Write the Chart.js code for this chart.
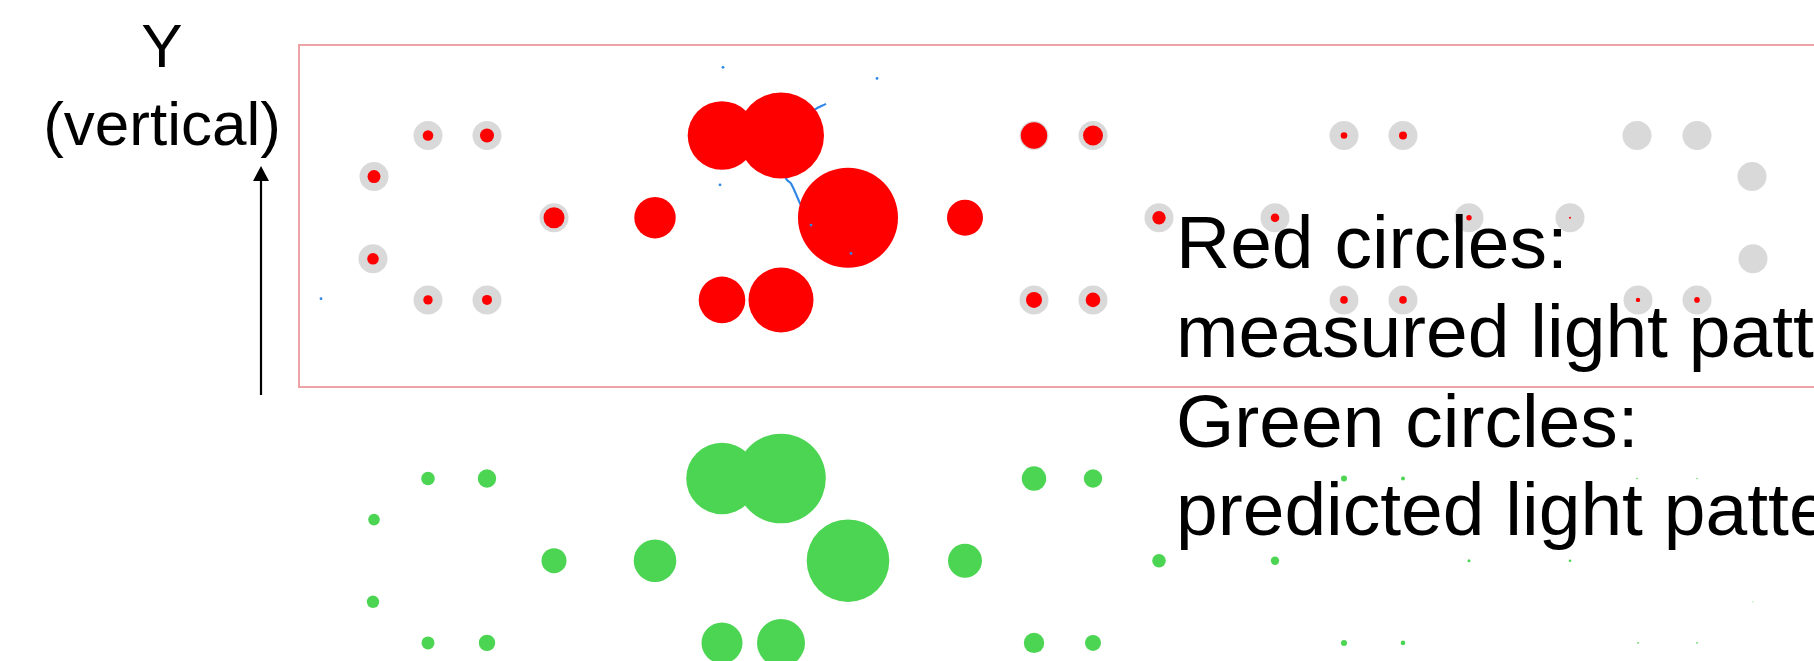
<!DOCTYPE html>
<html>
<head>
<meta charset="utf-8">
<script src="https://cdn.jsdelivr.net/npm/chart.js@4.4.1/dist/chart.umd.min.js"></script>
<style>
html,body{margin:0;padding:0;background:#fff;overflow:hidden}
canvas{display:block}
</style>
</head>
<body>
<canvas id="c" width="1814" height="661" style="width:1814px;height:661px"></canvas>
<script>
// ---- data ----
// spot positions: horizontal position (arbitrary units) and row (-2..2, up positive)
const spotX = [7.6, 7.5, 13.0, 18.9, 13.0, 18.9, 25.6,
               35.7, 42.4, 48.3, 42.4, 48.3, 55.0,
               66.7, 73.6, 79.5, 73.6, 79.5, 86.1,
               97.7, 104.6, 110.5, 104.6, 110.5, 117.1,
               127.2, 133.9, 139.9, 134.0, 139.9, 145.4, 145.5];
const spotRow = [1, -1, 2, 2, -2, -2, 0,
                 0, 2, 2, -2, -2, 0,
                 0, 2, 2, -2, -2, 0,
                 0, 2, 2, -2, -2, 0,
                 0, 2, 2, -2, -2, 1, -1];
// measured light pattern (bubble radius)
const measured = [6.5, 5.8, 5.3, 7.0, 4.7, 5.0, 10.5,
                  20.7, 34.3, 43.0, 23.3, 32.5, 50.0,
                  18.0, 13.2, 10.0, 8.0, 7.3, 6.7,
                  4.3, 3.3, 4.0, 3.8, 3.8, 2.7,
                  1.0, 0, 0, 2.2, 2.8, 0, 0];
// predicted light pattern (bubble radius)
const predicted = [5.8, 6.2, 6.8, 9.2, 6.5, 8.2, 12.5,
                   21.3, 35.8, 44.8, 20.5, 24.0, 41.3,
                   17.0, 12.2, 9.2, 10.2, 8.0, 6.8,
                   4.2, 3.0, 2.0, 3.0, 2.3, 1.5,
                   1.3, 0.8, 0.7, 0.8, 0.8, 0.5, 0.5];
// blue trace and stray blue marks in the measured panel
const traceX = [52.8, 51.6, 50.2, 49.2, 48.6, 48.9, 49.3, 50.2, 50.8];
const traceY = [2.77, 2.62, 2.26, 1.65, 1.10, 0.92, 0.83, 0.35, 0.06];
const strayX = [42.5, 57.9, 42.2, 2.3, 51.3, 55.3];
const strayY = [3.66, 3.39, 0.80, -1.97, -0.18, -0.87];
// text
const axisLabel = ['Y', '(vertical)'];
const noteLines = ['Red circles:', 'measured light pattern', 'Green circles:', 'predicted light pattern'];

// ---- chart ----
const pts = (xs, ys, rs) => xs.map((x, i) => rs ? {x: x, y: ys[i], r: rs[i]} : {x: x, y: ys[i]});

const decor = {
  id: 'decor',
  beforeDraw(chart) {
    const c = chart.ctx;
    c.save();
    c.fillStyle = '#ffffff';
    c.fillRect(0, 0, chart.width, chart.height);
    c.restore();
  },
  beforeDatasetsDraw(chart) {
    const c = chart.ctx, sx = chart.scales.x, sy = chart.scales.yTop;
    const l = Math.round(sx.getPixelForValue(0.1)), r = sx.getPixelForValue(153);
    const t = Math.round(sy.getPixelForValue(4.20)), b = Math.round(sy.getPixelForValue(-4.12));
    c.save();
    c.strokeStyle = '#eea3a6';
    c.lineWidth = 2;
    c.strokeRect(l, t, r - l, b - t);
    c.restore();
  },
  afterDraw(chart) {
    const c = chart.ctx;
    c.save();
    c.fillStyle = '#000';
    c.textBaseline = 'alphabetic';
    c.textAlign = 'center';
    c.font = "62px 'Liberation Sans', Arial, sans-serif";
    c.fillText(axisLabel[0], 162, 66.5);
    c.fillText(axisLabel[1], 162, 145);
    // arrow
    c.strokeStyle = '#000';
    c.lineWidth = 2.2;
    c.beginPath();
    c.moveTo(261, 395);
    c.lineTo(261, 178);
    c.stroke();
    c.beginPath();
    c.moveTo(261, 166);
    c.lineTo(253, 181);
    c.lineTo(269, 181);
    c.closePath();
    c.fill();
    // notes
    c.textAlign = 'left';
    c.font = "75px 'Liberation Sans', Arial, sans-serif";
    const base = [267.7, 356.7, 446.7, 535];
    noteLines.forEach((s, i) => c.fillText(s, 1176, base[i]));
    c.restore();
  }
};

new Chart(document.getElementById('c'), {
  type: 'bubble',
  data: {
    datasets: [
      {
        label: 'array positions',
        data: pts(spotX, spotRow),
        yAxisID: 'yTop',
        radius: 14.5,
        backgroundColor: '#d9d9d9',
        borderWidth: 0,
        order: 3
      },
      {
        type: 'line',
        label: 'trace',
        data: pts(traceX, traceY),
        yAxisID: 'yTop',
        borderColor: '#2f86e6',
        borderWidth: 2.2,
        pointRadius: 0,
        tension: 0.4,
        fill: false,
        order: 2
      },
      {
        label: 'measured light pattern',
        data: pts(spotX, spotRow, measured),
        yAxisID: 'yTop',
        backgroundColor: '#ff0000',
        borderWidth: 0,
        order: 1
      },
      {
        label: 'stray',
        data: pts(strayX, strayY),
        yAxisID: 'yTop',
        radius: 1.4,
        backgroundColor: '#2f86e6',
        borderWidth: 0,
        order: 0
      },
      {
        label: 'predicted light pattern',
        data: pts(spotX, spotRow, predicted),
        yAxisID: 'yBot',
        backgroundColor: '#4cd553',
        borderWidth: 0,
        order: 1
      }
    ]
  },
  options: {
    responsive: false,
    animation: false,
    devicePixelRatio: 1,
    events: [],
    layout: {padding: 0, autoPadding: false},
    plugins: {legend: {display: false}, tooltip: {enabled: false}, title: {display: false}},
    scales: {
      x: {type: 'linear', display: false, min: -29.8, max: 151.6},
      yTop: {type: 'linear', display: false, min: -10.786, max: 5.297},
      yBot: {type: 'linear', display: false, min: -2.440, max: 13.642}
    }
  },
  plugins: [decor]
});
</script>
</body>
</html>
